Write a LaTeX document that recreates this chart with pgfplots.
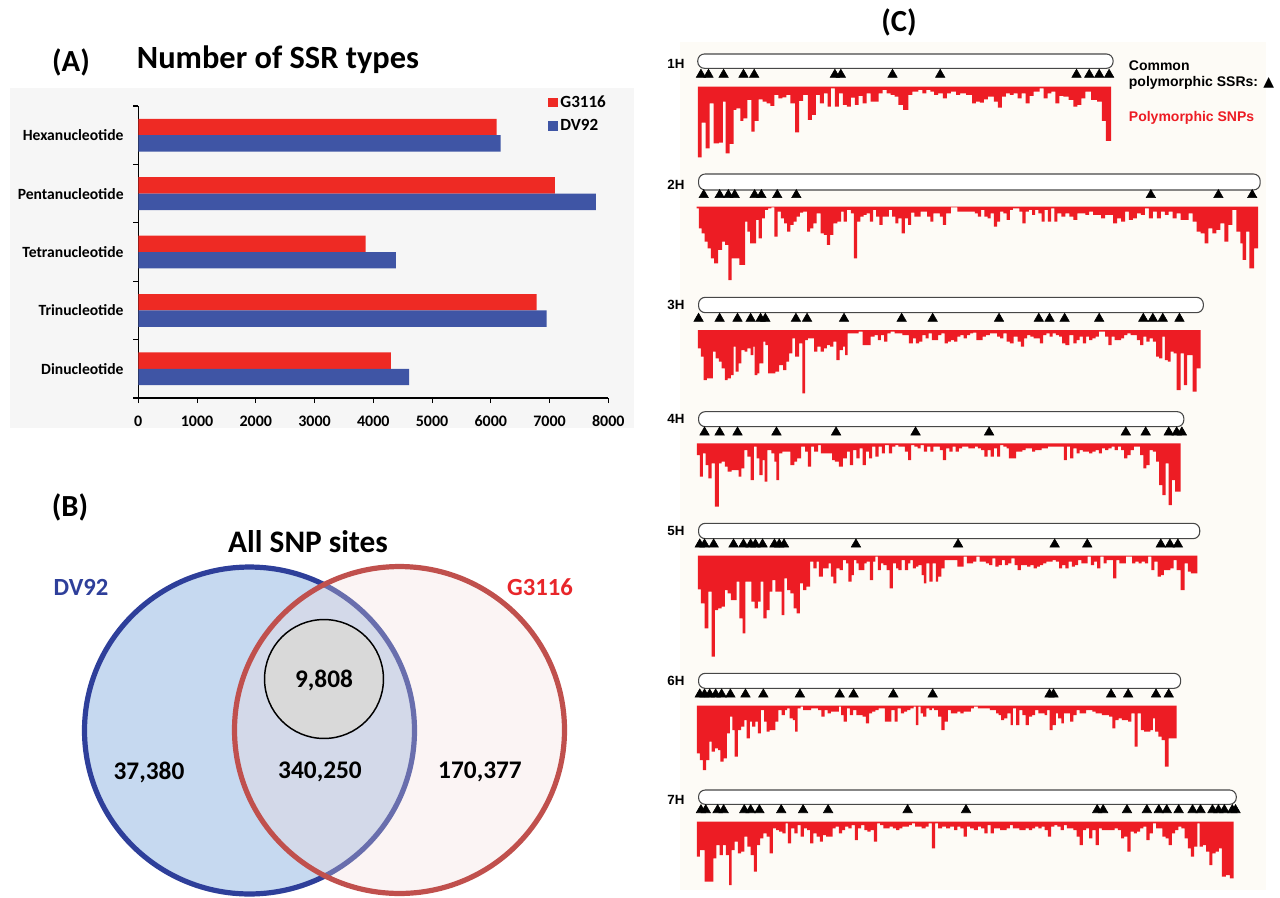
\documentclass[border=0pt]{standalone}
\usepackage{pgfplots}
\pgfplotsset{compat=1.18}
\usepackage{fontspec}
\setmainfont{Carlito}
\newfontfamily\arialf{Liberation Sans}
\newfontfamily\dejavu{DejaVu Sans}
\definecolor{ssrred}{HTML}{EE2A24}
\definecolor{ssrblue}{HTML}{3F55A5}
\definecolor{snpred}{HTML}{ED1C24}
\definecolor{vblue}{HTML}{2E3F9A}
\definecolor{vbluefill}{HTML}{C6D9F0}
\definecolor{vred}{HTML}{C0504D}
\definecolor{vredfill}{HTML}{F2DCDB}
\definecolor{gtext}{HTML}{E8262A}
\definecolor{panelgray}{HTML}{F6F6F6}
\definecolor{panelc}{HTML}{FDFBF6}
\def\s{0.75pt}
\pgfplotsset{
  chrom/.style={anchor=north west, width=465pt, scale only axis, xmin=0, xmax=1560, ymin=0, y dir=reverse, hide axis, clip=false},
  bars/.style={const plot mark left, fill=snpred, draw=none, mark=none},
  ssr/.style={only marks, mark=triangle*, mark size=4.1pt, black, mark options={draw=none, fill=black}},
}
\tikzset{capsule/.style={draw=black!72, line width=0.8pt, fill=white, rounded corners=5pt}}
\newcommand{\clab}{\arialf\bfseries\fontsize{10}{12}\selectfont}
\begin{document}
\begin{tikzpicture}
\path[use as bounding box] (0,0) rectangle (960pt,-673.5pt);
\fill[panelgray] (10*\s,-88*\s) rectangle (634*\s,-428*\s);
\fill[panelc] (680*\s,-42*\s) rectangle (1266*\s,-890*\s);

% ---------------- Panel A ----------------
\node[font=\bfseries\fontsize{23}{26}\selectfont] at (71*\s,-62*\s) {(A)};
\node[font=\bfseries\fontsize{24.3}{28}\selectfont] at (278*\s,-60*\s) {Number of SSR types};
\begin{axis}[
  at={(138.3*\s,-398*\s)}, anchor=south west,
  scale only axis, width=352.5pt, height=219pt,
  xbar, bar width=12.3pt,
  xmin=0, xmax=8000, ymin=-0.5, ymax=4.5,
  axis x line*=bottom, axis y line*=left,
  axis line style={line width=1pt, -},
  xtick={0,1000,...,8000},
  ytick={-0.5,0.5,...,4.5}, yticklabels={,,,,,},
  extra y ticks={0,1,2,3,4},
  extra y tick labels={Dinucleotide,Trinucleotide,Tetranucleotide,Pentanucleotide,Hexanucleotide},
  extra y tick style={major tick length=0pt},
  tick align=outside, major tick length=3.8pt,
  tick style={black, line width=0.8pt},
  /pgf/number format/assume math mode=true,
  /pgf/number format/1000 sep={},
  xticklabel style={font=\bfseries\fontsize{12}{14}\selectfont, yshift=-6pt},
  yticklabel style={font=\bfseries\fontsize{11.7}{13}\selectfont, xshift=-7.5pt},
  legend style={at={(0.872,1.045)}, anchor=north west, draw=none, fill=none,
    font=\bfseries\fontsize{12.8}{14}\selectfont, row sep=3.5pt, inner sep=0pt},
  legend cell align=left,
  legend image code/.code={\fill[#1] (0pt,-3.5pt) rectangle (7pt,3.5pt);},
]
\addplot[fill=ssrred, draw=none, bar shift=6.15pt] coordinates {(4300,0) (6780,1) (3870,2) (7090,3) (6100,4)};
\addplot[fill=ssrblue, draw=none, bar shift=-6.15pt] coordinates {(4610,0) (6950,1) (4385,2) (7790,3) (6168,4)};
\legend{G3116,DV92}
\end{axis}

% ---------------- Panel B ----------------
\node[font=\bfseries\fontsize{23}{26}\selectfont] at (70*\s,-507*\s) {(B)};
\node[font=\bfseries\fontsize{23.5}{27}\selectfont] at (308*\s,-542*\s) {All SNP sites};
\begin{axis}[at={(0,-490*\s)}, anchor=north west, scale only axis, width=480pt, height=306pt,
  xmin=0, xmax=640, ymin=490, ymax=898, y dir=reverse, hide axis, clip=false]
\filldraw[fill=vbluefill, draw=vblue, line width=3.9pt] (axis cs:249.5,730.5) ellipse [x radius=123.75pt, y radius=122.6pt];
\fill[vredfill, opacity=0.3] (axis cs:399.5,730) ellipse [x radius=123.75pt, y radius=122.6pt];
\draw[vred, line width=3.9pt] (axis cs:399.5,730) ellipse [x radius=123.75pt, y radius=122.6pt];
\filldraw[fill=black!15, draw=black, line width=1.1pt] (axis cs:324,679) circle [radius=44.6pt];
\node[font=\bfseries\fontsize{19}{22}\selectfont] at (axis cs:324,680) {9,808};
\node[font=\bfseries\fontsize{19}{22}\selectfont] at (axis cs:149,772) {37,380};
\node[font=\bfseries\fontsize{19}{22}\selectfont] at (axis cs:320,772) {340,250};
\node[font=\bfseries\fontsize{19}{22}\selectfont] at (axis cs:480,772) {170,377};
\node[font=\bfseries\fontsize{18.5}{22}\selectfont, text=vblue] at (axis cs:81,587) {DV92};
\node[font=\bfseries\fontsize{18.5}{22}\selectfont, text=gtext] at (axis cs:540,587) {G3116};
\end{axis}

% ---------------- Panel C ----------------
\node[font=\bfseries\fontsize{23}{26}\selectfont] at (899*\s,-22*\s) {(C)};

% 1H
\begin{axis}[chrom, at={(660*\s,-40*\s)}, height=97.5pt, ymax=390]
\draw[capsule] (axis cs:95,42) rectangle (axis cs:1140,85);
\addplot[bars] coordinates {(95,140)(95,352)(105,248)(115,325)(125,190)(135,310)(148,308)(158,185)(165,340)(175,312)(185,210)(192,205)(202,243)(210,235)(220,180)(230,275)(238,243)(248,178)(258,185)(268,190)(278,198)(288,165)(298,175)(308,172)(318,165)(328,190)(340,277)(350,183)(360,165)(372,240)(382,225)(392,165)(402,190)(412,160)(422,200)(430,145)(440,200)(450,160)(460,195)(470,200)(480,173)(490,195)(500,168)(510,190)(520,160)(530,185)(540,185)(550,160)(560,150)(570,160)(580,165)(590,170)(600,195)(612,210)(625,165)(635,155)(650,150)(660,160)(670,150)(680,155)(690,165)(700,160)(712,175)(722,160)(732,155)(745,165)(755,160)(770,165)(785,190)(795,185)(805,188)(815,178)(825,170)(840,185)(850,203)(860,170)(870,160)(880,165)(890,160)(900,175)(910,160)(920,190)(930,168)(940,155)(955,145)(965,175)(975,160)(985,155)(995,190)(1005,168)(1015,170)(1028,180)(1040,200)(1050,195)(1060,175)(1070,155)(1085,180)(1100,185)(1112,243)(1122,303)(1135,140)};
\addplot[ssr] coordinates {(103,104)(122,104)(160,104)(210,104)(237,104)(440,104)(455,104)(585,104)(705,104)(1048,104)(1080,104)(1105,104)(1130,104)};
\node[font=\clab] at (axis cs:40,72) {1H};
\node[anchor=west, font=\arialf\bfseries\fontsize{10.5}{12}\selectfont] at (axis cs:1168,78) {Common};
\node[anchor=west, font=\arialf\bfseries\fontsize{10.5}{12}\selectfont] at (axis cs:1168,128) {polymorphic SSRs: {\dejavu ▲}};
\node[anchor=west, text=snpred, font=\arialf\bfseries\fontsize{10.5}{12}\selectfont] at (axis cs:1168,235) {Polymorphic SNPs};
\end{axis}

% 2H
\begin{axis}[chrom, at={(660*\s,-170*\s)}, height=90pt, ymax=360]
\draw[capsule] (axis cs:97,12) rectangle (axis cs:1510,60);
\addplot[bars] coordinates {(92,110)(92,115)(98,175)(105,190)(112,215)(120,235)(128,265)(136,280)(146,240)(156,215)(164,225)(172,330)(180,265)(190,265)(200,285)(207,285)(214,155)(220,185)(227,220)(234,220)(242,150)(248,205)(256,145)(264,120)(272,115)(280,112)(288,200)(296,125)(304,145)(312,160)(320,185)(328,165)(336,155)(344,140)(352,128)(360,125)(370,185)(378,175)(386,160)(394,130)(404,190)(412,195)(420,225)(428,195)(436,160)(446,155)(456,125)(462,155)(470,120)(480,130)(488,265)(496,155)(504,140)(512,135)(520,130)(528,155)(536,120)(544,140)(552,165)(560,140)(568,140)(576,120)(584,140)(592,160)(600,145)(608,190)(616,145)(624,165)(632,128)(640,140)(656,125)(672,140)(680,155)(688,130)(696,130)(704,140)(712,165)(720,130)(732,112)(748,125)(760,125)(776,125)(792,130)(800,140)(808,120)(816,140)(824,145)(832,130)(840,170)(848,155)(856,125)(864,130)(872,150)(880,120)(888,115)(896,115)(904,125)(912,160)(920,125)(928,120)(936,135)(944,120)(952,130)(960,155)(968,120)(976,155)(984,115)(992,155)(1000,130)(1010,140)(1020,130)(1030,140)(1040,150)(1050,130)(1060,130)(1070,135)(1080,125)(1090,135)(1100,135)(1110,145)(1120,135)(1130,135)(1140,160)(1150,145)(1160,155)(1170,125)(1180,150)(1190,145)(1200,130)(1210,135)(1220,115)(1230,145)(1240,125)(1250,145)(1260,125)(1270,135)(1280,125)(1290,145)(1300,130)(1310,150)(1320,150)(1330,130)(1340,155)(1350,185)(1360,190)(1370,220)(1380,175)(1390,190)(1400,180)(1410,160)(1420,215)(1430,165)(1440,120)(1450,185)(1460,220)(1466,270)(1475,185)(1483,295)(1495,235)(1505,110)};
\addplot[ssr] coordinates {(110,75)(150,75)(172,75)(188,75)(238,75)(255,75)(295,75)(343,75)(1235,75)(1405,75)(1490,75)};
\node[font=\clab] at (axis cs:40,45) {2H};
\end{axis}

% 3H
\begin{axis}[chrom, at={(660*\s,-290*\s)}, height=82.5pt, ymax=330]
\draw[capsule] (axis cs:97,22) rectangle (axis cs:1367,68);
\addplot[bars] coordinates {(95,120)(95,175)(103,200)(110,270)(118,265)(125,265)(133,185)(140,205)(148,215)(155,235)(163,270)(170,265)(178,255)(185,170)(190,245)(198,220)(205,180)(213,185)(220,175)(228,195)(235,170)(238,255)(245,250)(250,220)(260,155)(265,165)(272,250)(280,250)(290,245)(300,225)(310,240)(318,215)(325,190)(333,145)(340,200)(350,160)(358,310)(365,150)(372,145)(380,145)(388,185)(396,170)(404,185)(412,175)(420,165)(428,170)(436,155)(444,210)(452,180)(460,170)(466,195)(472,130)(482,130)(490,130)(500,125)(510,165)(520,165)(530,140)(540,135)(548,150)(556,135)(564,155)(572,130)(580,125)(590,130)(600,130)(610,135)(618,135)(626,160)(636,145)(644,160)(652,155)(660,135)(668,145)(676,130)(684,150)(692,150)(700,135)(708,130)(716,160)(724,155)(732,150)(740,155)(748,140)(756,135)(764,145)(772,135)(780,130)(788,128)(796,150)(804,150)(812,140)(820,135)(830,130)(840,130)(848,140)(856,145)(864,130)(872,155)(880,160)(890,140)(900,155)(908,170)(916,145)(924,135)(932,140)(940,145)(948,145)(956,160)(964,135)(972,130)(980,140)(988,130)(996,135)(1004,140)(1012,160)(1020,165)(1030,135)(1040,160)(1048,150)(1056,140)(1064,160)(1072,140)(1080,150)(1088,145)(1096,140)(1104,125)(1112,125)(1120,140)(1128,165)(1136,140)(1144,150)(1152,150)(1160,145)(1168,135)(1176,130)(1184,135)(1192,135)(1200,150)(1208,165)(1216,140)(1224,155)(1232,145)(1240,155)(1248,200)(1256,205)(1264,140)(1270,210)(1278,215)(1285,185)(1292,190)(1300,300)(1310,190)(1318,285)(1326,195)(1340,305)(1350,235)(1360,120)};
\addplot[ssr] coordinates {(97,86)(150,86)(195,86)(228,86)(253,86)(265,86)(342,86)(370,86)(463,86)(608,86)(686,86)(853,86)(953,86)(980,86)(1018,86)(1105,86)(1216,86)(1240,86)(1265,86)(1307,86)};
\node[font=\clab] at (axis cs:40,45) {3H};
\end{axis}

% 4H
\begin{axis}[chrom, at={(660*\s,-400*\s)}, height=82.5pt, ymax=330]
\draw[capsule] (axis cs:97,35) rectangle (axis cs:1318,80);
\addplot[bars] coordinates {(93,130)(93,165)(100,230)(108,160)(115,195)(122,235)(130,190)(138,320)(148,190)(155,185)(163,200)(170,215)(180,210)(190,210)(198,230)(205,205)(212,150)(220,170)(228,240)(236,140)(243,175)(250,225)(258,180)(263,245)(270,150)(280,160)(288,185)(293,240)(300,160)(308,155)(318,155)(328,195)(338,185)(345,175)(355,140)(365,155)(372,200)(380,140)(388,155)(398,135)(405,160)(415,160)(425,160)(433,180)(440,185)(450,200)(460,175)(470,155)(478,195)(486,150)(494,175)(502,145)(510,195)(518,155)(526,175)(534,140)(542,170)(550,140)(558,160)(566,135)(576,160)(584,140)(592,135)(600,140)(608,140)(616,155)(624,180)(632,135)(640,140)(648,145)(656,135)(664,155)(672,140)(680,155)(688,140)(696,140)(704,150)(712,180)(720,145)(728,155)(736,140)(744,155)(752,145)(760,140)(768,140)(776,145)(784,145)(792,140)(800,145)(808,150)(816,170)(824,150)(832,170)(840,145)(848,170)(856,135)(864,140)(872,145)(878,175)(888,175)(896,155)(904,155)(912,150)(920,145)(928,145)(936,155)(944,150)(952,150)(960,145)(968,145)(976,140)(984,140)(992,140)(1000,140)(1008,140)(1016,180)(1024,140)(1032,175)(1040,145)(1048,160)(1056,150)(1064,155)(1072,155)(1080,160)(1088,155)(1096,150)(1104,160)(1112,145)(1120,150)(1128,145)(1136,140)(1144,150)(1152,140)(1160,150)(1168,175)(1176,165)(1184,150)(1192,140)(1200,140)(1208,165)(1216,205)(1224,195)(1232,150)(1240,155)(1248,185)(1256,255)(1264,285)(1272,190)(1280,315)(1288,240)(1296,275)(1310,130)};
\addplot[ssr] coordinates {(112,97)(150,97)(195,97)(293,97)(443,97)(643,97)(828,97)(1172,97)(1222,97)(1280,97)(1300,97)(1313,97)};
\node[font=\clab] at (axis cs:40,58) {4H};
\end{axis}

% 5H
\begin{axis}[chrom, at={(660*\s,-510*\s)}, height=112.5pt, ymax=450]
\draw[capsule] (axis cs:97,40) rectangle (axis cs:1358,86);
\addplot[bars] coordinates {(95,137)(95,238)(103,280)(112,355)(122,245)(130,440)(138,300)(146,295)(155,290)(163,240)(170,250)(178,270)(185,270)(193,215)(200,325)(208,370)(215,215)(222,215)(230,275)(238,295)(246,275)(253,215)(260,325)(268,300)(276,245)(283,210)(290,245)(298,245)(306,315)(313,205)(320,240)(328,250)(336,295)(344,310)(352,220)(360,240)(368,230)(378,155)(386,175)(394,155)(400,200)(410,175)(418,175)(424,160)(430,200)(436,220)(444,175)(452,180)(460,150)(468,160)(474,215)(482,195)(488,150)(494,160)(500,180)(508,180)(514,160)(520,155)(528,210)(536,155)(542,140)(548,180)(556,160)(562,165)(570,180)(578,235)(586,160)(594,175)(600,180)(608,150)(616,180)(624,160)(630,150)(636,175)(644,170)(650,165)(658,195)(664,220)(670,160)(678,215)(686,160)(694,215)(700,200)(708,175)(716,150)(724,150)(732,150)(740,150)(748,170)(756,170)(764,140)(772,160)(780,160)(788,155)(796,140)(804,155)(812,155)(820,160)(828,165)(836,145)(844,170)(852,165)(860,150)(868,165)(876,160)(884,145)(892,165)(900,180)(908,165)(916,165)(924,170)(932,165)(940,175)(948,170)(956,165)(964,160)(972,155)(980,155)(988,150)(996,155)(1004,175)(1012,165)(1020,175)(1028,155)(1036,170)(1044,165)(1052,150)(1060,160)(1068,160)(1076,140)(1084,165)(1092,155)(1100,175)(1108,140)(1116,160)(1124,150)(1132,150)(1140,205)(1148,150)(1156,160)(1164,160)(1172,140)(1180,140)(1188,160)(1196,155)(1204,160)(1212,155)(1220,160)(1228,140)(1236,180)(1244,155)(1252,200)(1260,195)(1268,180)(1276,180)(1284,175)(1292,150)(1300,180)(1310,240)(1320,160)(1328,185)(1336,190)(1352,137)};
\addplot[ssr] coordinates {(100,103)(112,103)(135,103)(185,103)(210,103)(228,103)(240,103)(258,103)(288,103)(300,103)(312,103)(493,103)(750,103)(993,103)(1075,103)(1260,103)(1283,103)(1303,103)};
\node[font=\clab] at (axis cs:40,62) {5H};
\end{axis}

% 6H
\begin{axis}[chrom, at={(660*\s,-660*\s)}, height=90pt, ymax=360]
\draw[capsule] (axis cs:97,40) rectangle (axis cs:1310,85);
\addplot[bars] coordinates {(93,137)(93,280)(100,300)(108,330)(116,300)(124,245)(130,275)(138,265)(146,270)(152,305)(160,295)(168,220)(176,170)(182,210)(188,290)(196,210)(204,200)(212,180)(218,235)(226,185)(232,200)(240,185)(246,220)(254,150)(262,185)(268,215)(276,210)(284,210)(290,185)(298,150)(306,165)(314,150)(320,145)(326,175)(334,180)(340,215)(346,145)(354,140)(360,150)(370,150)(380,145)(390,145)(398,150)(406,170)(414,150)(422,160)(430,155)(440,155)(450,140)(456,165)(462,185)(470,145)(478,165)(486,150)(494,165)(502,165)(510,170)(518,190)(526,160)(534,155)(542,150)(550,145)(558,145)(566,185)(574,185)(582,150)(590,185)(598,145)(606,160)(614,155)(622,150)(630,145)(638,140)(644,195)(650,140)(656,160)(662,170)(670,145)(678,150)(684,145)(690,150)(700,170)(708,210)(716,185)(724,150)(732,160)(740,160)(748,155)(756,160)(764,155)(772,155)(782,145)(790,140)(800,145)(810,145)(820,145)(830,150)(838,150)(846,160)(852,165)(858,180)(866,175)(874,160)(882,195)(888,145)(896,195)(904,150)(912,165)(920,195)(928,170)(936,165)(944,150)(952,160)(960,160)(968,165)(974,150)(980,210)(988,195)(996,160)(1002,175)(1010,190)(1016,160)(1024,160)(1032,185)(1040,165)(1048,150)(1056,160)(1064,160)(1072,150)(1080,150)(1088,155)(1096,160)(1104,160)(1112,165)(1120,165)(1130,170)(1138,205)(1146,180)(1154,175)(1162,180)(1170,180)(1178,185)(1186,160)(1194,260)(1202,160)(1210,210)(1218,215)(1226,215)(1234,210)(1240,175)(1246,215)(1254,230)(1262,240)(1270,320)(1280,235)(1290,235)(1300,137)};
\addplot[ssr] coordinates {(100,103)(112,103)(125,103)(140,103)(155,103)(177,103)(215,103)(260,103)(352,103)(452,103)(487,103)(587,103)(686,103)(980,103)(990,103)(1135,103)(1178,103)(1248,103)(1280,103)};
\node[font=\clab] at (axis cs:40,62) {6H};
\end{axis}

% 7H
\begin{axis}[chrom, at={(660*\s,-775*\s)}, height=90pt, ymax=360]
\draw[capsule] (axis cs:97,45) rectangle (axis cs:1450,88);
\addplot[bars] coordinates {(93,140)(93,245)(100,225)(112,320)(124,320)(134,250)(142,210)(150,240)(158,210)(166,240)(174,330)(180,225)(188,200)(196,235)(204,230)(212,185)(220,215)(228,240)(236,290)(244,210)(252,190)(260,175)(268,185)(276,235)(284,160)(292,165)(300,170)(308,175)(316,145)(322,205)(330,160)(338,175)(346,150)(354,185)(362,160)(370,165)(378,205)(386,175)(394,185)(402,200)(410,180)(418,185)(426,185)(434,160)(442,155)(450,175)(458,165)(466,155)(474,160)(482,150)(490,195)(498,160)(506,150)(514,165)(522,170)(530,165)(538,200)(546,145)(554,150)(562,160)(570,160)(578,155)(586,160)(594,165)(602,160)(610,155)(618,155)(626,150)(634,145)(642,155)(650,155)(658,160)(668,155)(676,145)(684,220)(692,145)(700,160)(710,155)(720,160)(730,155)(740,165)(748,155)(756,160)(764,185)(772,155)(780,160)(790,165)(800,155)(808,160)(816,175)(824,150)(832,175)(840,160)(848,160)(856,165)(864,165)(872,160)(880,150)(888,160)(896,160)(904,165)(912,165)(920,160)(928,165)(936,160)(944,155)(952,160)(960,155)(968,165)(976,185)(984,155)(992,150)(1000,155)(1008,165)(1016,150)(1024,160)(1032,160)(1040,165)(1048,185)(1056,210)(1064,165)(1072,160)(1080,190)(1088,165)(1096,210)(1104,160)(1112,165)(1120,165)(1128,165)(1136,165)(1144,160)(1152,165)(1160,190)(1168,185)(1176,230)(1184,170)(1192,175)(1200,170)(1208,160)(1216,155)(1224,195)(1232,175)(1240,145)(1248,160)(1256,160)(1264,185)(1272,190)(1280,210)(1288,175)(1296,165)(1304,155)(1312,160)(1320,190)(1328,220)(1336,245)(1344,215)(1352,145)(1358,215)(1366,210)(1374,230)(1382,270)(1390,235)(1398,230)(1406,220)(1414,305)(1424,300)(1434,310)(1443,140)};
\addplot[ssr] coordinates {(103,105)(115,105)(145,105)(160,105)(212,105)(228,105)(250,105)(305,105)(360,105)(423,105)(623,105)(770,105)(1100,105)(1115,105)(1175,105)(1225,105)(1255,105)(1275,105)(1305,105)(1340,105)(1360,105)(1390,105)(1405,105)(1420,105)(1440,105)(1448,105)};
\node[font=\clab] at (axis cs:40,75) {7H};
\end{axis}
\end{tikzpicture}
\end{document}
